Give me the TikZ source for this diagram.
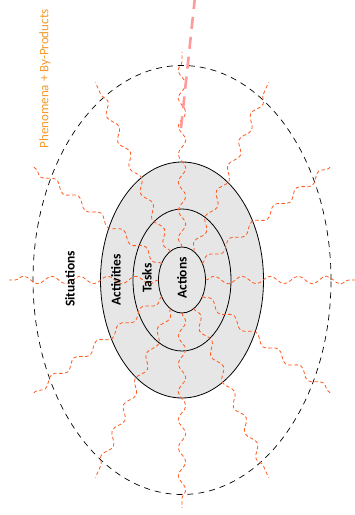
\documentclass[tikz,border=0pt]{standalone}
\usepackage{fontspec}
\setmainfont{Carlito}
\usepackage{tikz}
\usetikzlibrary{decorations.pathmorphing}

\definecolor{rayred}{HTML}{FF5A1E}
\definecolor{phenorange}{HTML}{F39A2B}
\definecolor{trailpink}{HTML}{FF9A9A}
\definecolor{actgray}{HTML}{E6E6E6}

\begin{document}
\begin{tikzpicture}[
    x=1pt, y=1pt,
    every node/.style={inner sep=0pt},
    ring/.style={draw=black, line width=0.8pt},
    layer/.style={font=\bfseries\fontsize{13.5}{15}\selectfont, rotate=90},
    ray/.style={draw=rayred, line width=0.8pt, dash pattern=on 3.5pt off 2.5pt,
        decorate, decoration={snake, segment length=28pt, amplitude=3.8pt}},
    trail/.style={draw=trailpink, line width=2.6pt, dash pattern=on 12pt off 8pt}
]
    \useasboundingbox (0,0) rectangle (355,515);

    % 1. Define the centre and the rings
    \coordinate (C) at (182,235);
    \fill[actgray] (C) ellipse [x radius=81.5, y radius=118];
    \draw[ring] (C) ellipse [x radius=81.5, y radius=118];
    \draw[ring] (C) ellipse [x radius=49, y radius=71];
    \draw[ring] (C) ellipse [x radius=23.5, y radius=33];
    \draw[black, line width=0.7pt, dash pattern=on 6pt off 5pt]
        (C) ellipse [x radius=149, y radius=214.5];

    % 2. Draw the wavy rays
    \foreach \a in {0,30,...,330} {
        \coordinate (in\a) at ({182+23.5*cos(\a)},{235+33*sin(\a)});
        \coordinate (out\a) at ({182+173*cos(\a)},{235+228*sin(\a)});
        \draw[ray] (in\a) -- (out\a);
    }

    % 3. The trail from the top
    \coordinate (trailtop) at (195,518);
    \coordinate (trailend) at (181,387);
    \draw[trail] (trailtop) -- (trailend);

    % 4. Labels
    \node[layer] (actions) at (182,237) {Actions};
    \node[layer] (tasks) at (147,237) {Tasks};
    \node[layer] (activities) at (116,235) {Activities};
    \node[layer] (situations) at (70,236) {Situations};
    \node[rotate=90, text=phenorange, font=\fontsize{13}{15}\selectfont]
        (pheno) at (45,436) {Phenomena + By-Products};

\end{tikzpicture}
\end{document}
